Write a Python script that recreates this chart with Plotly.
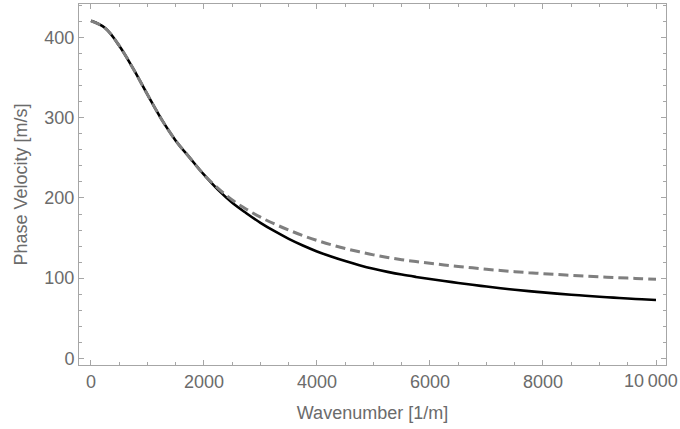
import plotly.graph_objects as go

# wavenumber samples [1/m], every 250
wavenumber = [0, 250, 500, 750, 1000, 1250, 1500, 1750, 2000, 2250,
              2500, 2750, 3000, 3250, 3500, 3750, 4000, 4250, 4500, 4750,
              5000, 5250, 5500, 5750, 6000, 6250, 6500, 6750, 7000, 7250,
              7500, 7750, 8000, 8250, 8500, 8750, 9000, 9250, 9500, 9750,
              10000]

# solid black curve [m/s]
velocity_solid = [421, 412, 390, 361, 329, 298, 271.5, 250, 229, 210,
                  194, 181, 169, 158.5, 149, 140.7, 133.3, 127, 121.3, 116.2,
                  111.7, 107.8, 104.4, 101.5, 98.9, 96.4, 94, 91.7, 89.5, 87.4,
                  85.5, 83.8, 82.2, 80.7, 79.3, 78, 76.8, 75.7, 74.6, 73.6,
                  72.7]

# dashed grey curve [m/s]
velocity_dashed = [421, 412, 390, 361, 329, 298, 271.5, 250, 229, 212,
                   197.5, 186, 176, 167.5, 160, 153, 147, 141.7, 137, 132.8,
                   129, 125.8, 123, 120.6, 118.5, 116.5, 114.6, 112.8, 111, 109.5,
                   108, 106.8, 105.6, 104.5, 103.5, 102.5, 101.6, 100.8, 100, 99.3,
                   98.7]

x_tickvals = [0, 2000, 4000, 6000, 8000, 10000]
x_ticktext = ['0', '2000', '4000', '6000', '8000', '']
last_x_label = '10\u2009000'  # drawn separately so it stays inside the window
y_tickvals = [0, 100, 200, 300, 400]

label_color = '#6b6b6b'
frame_color = '#a6a6a6'
font_family = 'Liberation Sans, Arial, sans-serif'

fig = go.Figure()

fig.add_trace(go.Scatter(
    x=wavenumber,
    y=velocity_solid,
    mode='lines',
    line=dict(color='black', width=2.6, shape='spline'),
    showlegend=False,
))

fig.add_trace(go.Scatter(
    x=wavenumber,
    y=velocity_dashed,
    mode='lines',
    line=dict(color='#7f7f7f', width=3, dash='10px,5px', shape='spline'),
    showlegend=False,
))

axis_common = dict(
    showgrid=False,
    zeroline=False,
    showline=True,
    linecolor=frame_color,
    linewidth=1,
    mirror='allticks',
    ticks='inside',
    ticklen=5,
    tickwidth=1,
    tickcolor=frame_color,
    automargin=False,
    ticklabeloverflow='allow',
    tickfont=dict(family=font_family, size=18, color=label_color),
)

fig.update_xaxes(
    **axis_common,
    range=[-212, 10177],
    tickvals=x_tickvals,
    ticktext=x_ticktext,
    minor=dict(dtick=500, ticks='inside', ticklen=3, tickcolor=frame_color),
    title=dict(text='Wavenumber [1/m]', standoff=15,
               font=dict(family=font_family, size=18, color=label_color)),
)

fig.update_yaxes(
    **axis_common,
    range=[-8.4, 442],
    tickvals=y_tickvals,
    minor=dict(dtick=20, ticks='inside', ticklen=3, tickcolor=frame_color),
    title=dict(text='Phase Velocity [m/s]', standoff=12,
               font=dict(family=font_family, size=18, color=label_color)),
)

fig.add_annotation(
    text=last_x_label,
    xref='paper', yref='paper',
    x=1.0215, y=-0.0135,
    xanchor='right', yanchor='top',
    showarrow=False,
    borderpad=0,
    font=dict(family=font_family, size=18, color=label_color),
)

fig.update_layout(
    width=680,
    height=429,
    margin=dict(l=79, r=14, t=4, b=64),
    plot_bgcolor='white',
    paper_bgcolor='white',
)

# drop the default body margin so the 680x429 figure fills the window exactly
fig.write_html("out.html",
               config={'displayModeBar': False},
               post_script="document.body.style.margin='0';document.body.style.overflow='hidden';")
